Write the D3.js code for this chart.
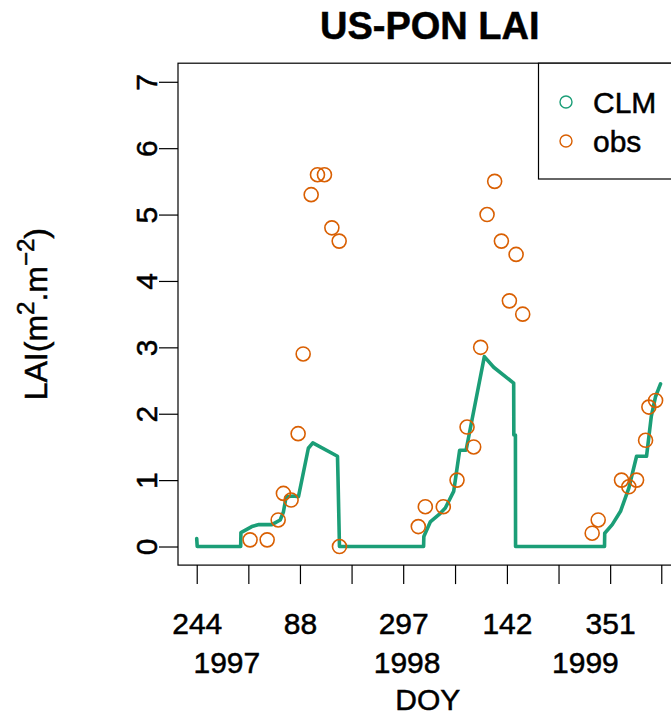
<!DOCTYPE html>
<html>
<head>
<meta charset="utf-8">
<script src="https://cdn.jsdelivr.net/npm/d3@7/dist/d3.min.js"></script>
<style>
body{margin:0;background:#fff;}
svg{display:block;font-family:"Liberation Sans",Arial,Helvetica,sans-serif;}
svg text{stroke:#000;stroke-width:0.5px;}
</style>
</head>
<body>
<div id="chart"></div>
<script>
// days counted from DOY 244 of 1997
var clmDay = [0,1,89,89.5,111.5,126,152,169,175.5,181,196,206,226,235,285,286,289,
              459.3,459.8,472.8,493.2,503.3,520.2,532.3,545.3,582.3,601.2,641.7,642,645.2,645.5,
              825.6,826,841.2,858,874.8,890.5,910.7,920.3,929,939];
var clmLAI = [0.12,0,0,0.21,0.30,0.33,0.33,0.40,0.52,0.75,0.76,0.75,1.48,1.56,1.36,1.05,0,
              0,0.15,0.37,0.50,0.58,0.83,1.45,1.45,2.86,2.70,2.46,1.68,1.68,0,
              0,0.20,0.33,0.53,0.88,1.36,1.36,1.96,2.26,2.45];

var obsDay = [108,142.6,164.9,175.5,191.1,205.3,215.5,231.7,244.5,258.6,273.6,288.4,289,
              448.6,462.8,499.2,527,547.3,560.7,574.8,587.8,603.2,616.8,633,646.6,660,
              800.6,812.8,860,874.8,890.5,908.7,915.4,929];
var obsLAI = [0.1,0.1,0.4,0.8,0.7,1.7,2.9,5.3,5.6,5.6,4.8,4.6,0,
              0.3,0.6,0.6,1.0,1.8,1.5,3.0,5.0,5.5,4.6,3.7,4.4,3.5,
              0.2,0.4,1.0,0.9,1.0,1.6,2.1,2.2];

var tickDays = [0,104.5,209,313.5,418,523,628,732.5,837,940.5];
var doyLabels = ["244","","88","","297","","142","","351",""];
var yearLabels = ["1997","1998","1999"];
var yearDays = [61,426,787];
var laiTicks = [0,1,2,3,4,5,6,7];
var seriesNames = ["CLM","obs"];
var seriesColors = ["#1b9e77","#d95f02"];

var w = 671, h = 715;
var pl = 178, pt = 63.2, pr = 683.5, pb = 565.1;
var xlim = [0,947.6], ylim = [0,7];

function pad(l){var r=(l[1]-l[0])*0.04; return [l[0]-r,l[1]+r];}

var x = d3.scaleLinear().domain(pad(xlim)).range([pl,pr]);
var y = d3.scaleLinear().domain(pad(ylim)).range([pb,pt]);

var svg = d3.select("#chart")
  .append("svg")
  .attr("width",w)
  .attr("height",h);

svg.append("rect").attr("width",w).attr("height",h).style("fill","#fff");

// title
svg.append("text")
  .attr("x",(pl+pr)/2 - 1)
  .attr("y",38.5)
  .attr("text-anchor","middle")
  .style("font-size","38px")
  .style("font-weight","bold")
  .text("US-PON LAI");

// box
svg.append("rect")
  .attr("x",pl).attr("y",pt)
  .attr("width",pr-pl).attr("height",pb-pt)
  .style("fill","none").style("stroke","#000").style("stroke-width",1.2);

var xAxis = svg.append("g")
  .attr("transform","translate(0,"+pb+")")
  .call(d3.axisBottom(x).tickValues(tickDays).tickSize(19)
        .tickFormat(function(d,i){return doyLabels[i];}));
xAxis.select(".domain").remove();
xAxis.selectAll("line").style("stroke","#000").style("stroke-width",1.2);
xAxis.selectAll("text")
  .attr("y",69).attr("dy",null)
  .style("font-size","30px").style("fill","#000")
  .style("font-family","'Liberation Sans',Arial,sans-serif");

svg.selectAll(".year")
  .data(yearLabels)
  .enter()
  .append("text")
  .attr("class","year")
  .attr("x",function(d,i){return x(yearDays[i]);})
  .attr("y",673)
  .attr("text-anchor","middle")
  .style("font-size","30px")
  .text(function(d){return d;});

svg.append("text")
  .attr("x",(pl+pr)/2 - 3)
  .attr("y",710)
  .attr("text-anchor","middle")
  .style("font-size","30px")
  .text("DOY");

var yAxis = svg.append("g")
  .attr("transform","translate("+pl+",0)")
  .call(d3.axisLeft(y).tickValues(laiTicks).tickSize(19));
yAxis.select(".domain").remove();
yAxis.selectAll("line").style("stroke","#000").style("stroke-width",1.2);
yAxis.selectAll("text")
  .attr("transform","rotate(-90)")
  .attr("x",0).attr("y",-21).attr("dy",null)
  .style("text-anchor","middle")
  .style("font-size","30px").style("fill","#000")
  .style("font-family","'Liberation Sans',Arial,sans-serif");

var ylab = svg.append("text")
  .attr("transform","translate(47,"+((pt+pb)/2)+") rotate(-90)")
  .attr("text-anchor","middle")
  .style("font-size","32px");
ylab.append("tspan").text("LAI(m");
ylab.append("tspan").attr("dy",-13).style("font-size","24px").text("2");
ylab.append("tspan").attr("dy",13).text(".m");
ylab.append("tspan").attr("dy",-13).style("font-size","24px").text("\u22122");
ylab.append("tspan").attr("dy",13).text(")");

// CLM line
var line = d3.line()
  .x(function(d){return x(d[0]);})
  .y(function(d){return y(d[1]);});

svg.append("path")
  .datum(d3.zip(clmDay,clmLAI))
  .attr("d",line)
  .style("fill","none")
  .style("stroke",seriesColors[0])
  .style("stroke-width",3.6)
  .style("stroke-linejoin","round")
  .style("stroke-linecap","round");

// obs points
svg.selectAll(".obs")
  .data(d3.zip(obsDay,obsLAI))
  .enter()
  .append("circle")
  .attr("class","obs")
  .attr("cx",function(d){return x(d[0]);})
  .attr("cy",function(d){return y(d[1]);})
  .attr("r",7)
  .style("fill","none")
  .style("stroke",seriesColors[1])
  .style("stroke-width",1.6);

// legend
var lg = svg.append("g");
lg.append("rect")
  .attr("x",538.5).attr("y",pt)
  .attr("width",pr-538.5).attr("height",179-pt)
  .style("fill","#fff").style("stroke","#000").style("stroke-width",1.2);

var item = lg.selectAll(".item")
  .data(seriesNames)
  .enter()
  .append("g")
  .attr("class","item")
  .attr("transform",function(d,i){return "translate(0,"+(102+i*39)+")";});

item.append("circle")
  .attr("cx",566).attr("cy",0).attr("r",6)
  .style("fill","none")
  .style("stroke",function(d,i){return seriesColors[i];})
  .style("stroke-width",1.4);

item.append("text")
  .attr("x",593).attr("y",11)
  .style("font-size","30px")
  .text(function(d){return d;});
</script>
</body>
</html>
